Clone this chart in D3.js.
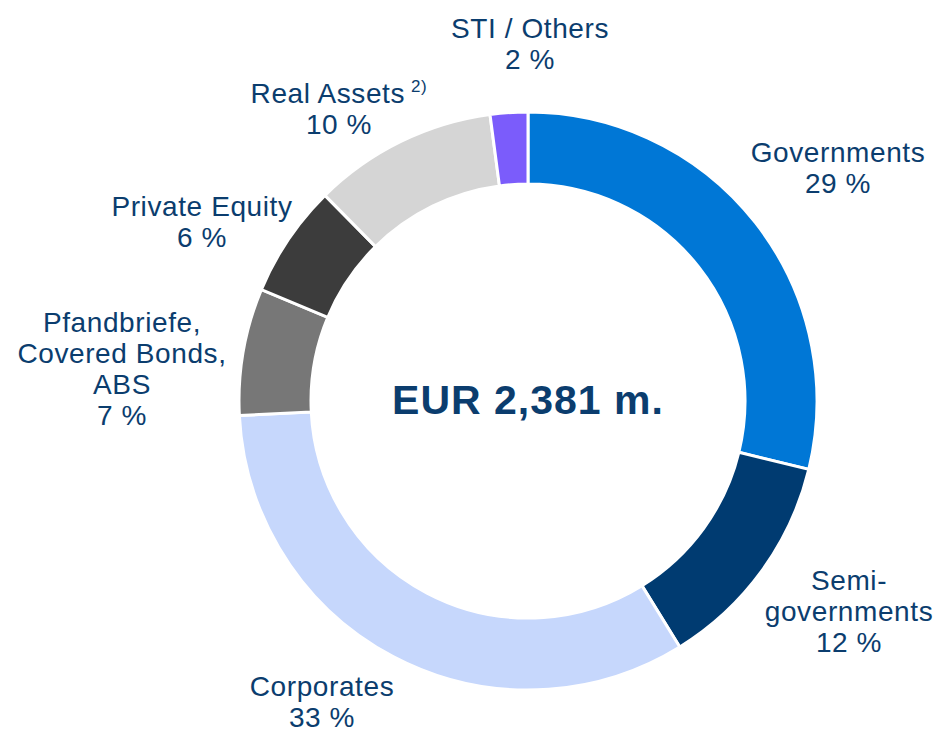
<!DOCTYPE html>
<html>
<head>
<meta charset="utf-8">
<script src="https://cdn.jsdelivr.net/npm/d3@7"></script>
<style>
  html, body { margin: 0; padding: 0; background: #fff; }
  svg { display: block; }
  text { font-family: "Liberation Sans", Arial, sans-serif; fill: #0b3d6e; }
</style>
</head>
<body>
<div id="chart"></div>
<script>
const categories = ["Governments", "Semi-governments", "Corporates", "Pfandbriefe, Covered Bonds, ABS", "Private Equity", "Real Assets", "STI / Others"];
const shares = [28.8, 12.4, 33.0, 7.1, 6.3, 10.3, 2.1];
const percentLabels = ["29 %", "12 %", "33 %", "7 %", "6 %", "10 %", "2 %"];
const labelLines = [
  ["Governments"],
  ["Semi-", "governments"],
  ["Corporates"],
  ["Pfandbriefe,", "Covered Bonds,", "ABS"],
  ["Private Equity"],
  ["Real Assets"],
  ["STI / Others"]
];
const colors = ["#0077d6", "#003b71", "#c6d7fc", "#777777", "#3c3c3c", "#d5d5d5", "#7b5cfb"];
const totalLabel = "EUR 2,381 m.";

const width = 939;
const height = 733;
const cx = 528, cy = 401;
const outerR = 289, innerR = 217;

// label anchor (center x, first baseline)
const labelPos = [
  [838, 162], [849, 590], [322, 696], [122, 332], [202, 216], [339, 103], [530, 38]
];
const lineH = 31;

const svg = d3.select("#chart").append("svg")
  .attr("width", width)
  .attr("height", height);

const data = categories.map((c, i) => ({ name: c, value: shares[i], color: colors[i], pct: percentLabels[i], lines: labelLines[i] }));

const pie = d3.pie().sort(null).value(d => d.value);
const arc = d3.arc().innerRadius(innerR).outerRadius(outerR);

const g = svg.append("g").attr("transform", `translate(${cx},${cy})`);

g.selectAll("path")
  .data(pie(data))
  .enter()
  .append("path")
  .attr("d", arc)
  .attr("fill", d => d.data.color)
  .attr("stroke", "#fff")
  .attr("stroke-width", 3);

// center total
g.append("text")
  .attr("text-anchor", "middle")
  .attr("y", 13)
  .attr("font-size", 41)
  .attr("font-weight", "bold")
  .attr("letter-spacing", 1)
  .text(totalLabel);

// labels
data.forEach((d, i) => {
  const [lx, ly] = labelPos[i];
  const t = svg.append("text")
    .attr("text-anchor", "middle")
    .attr("font-size", 28)
    .attr("letter-spacing", 0.6);
  const lines = d.lines.concat([d.pct]);
  lines.forEach((line, j) => {
    t.append("tspan")
      .attr("x", lx)
      .attr("y", ly + j * lineH)
      .text(line);
    if (d.name === "Real Assets" && j === 0) {
      t.append("tspan")
        .attr("dx", 6)
        .attr("dy", -11)
        .attr("font-size", 17)
        .text("2)");
    }
  });
});
</script>
</body>
</html>
